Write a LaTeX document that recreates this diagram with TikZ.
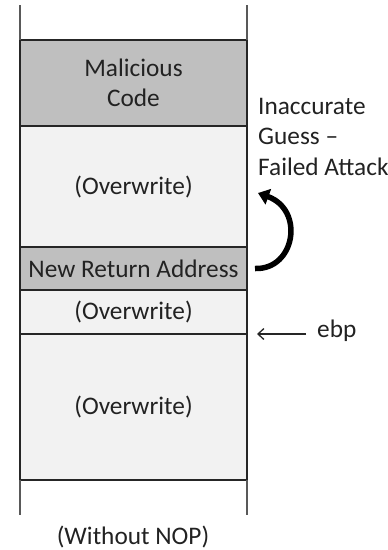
\documentclass[tikz,border=0pt]{standalone}
\usepackage{fontspec}
\setmainfont{Carlito}
\usetikzlibrary{arrows.meta}
\definecolor{codegray}{HTML}{BFBFBF}
\definecolor{lightfill}{HTML}{F2F2F2}
\definecolor{inkgray}{HTML}{222222}
\definecolor{wallgray}{HTML}{595959}
\begin{document}
\begin{tikzpicture}[x=1pt,y=-1pt,
  font=\fontsize{25.3}{30.5}\selectfont,
  cell/.style={draw=black!85, line width=2pt, minimum width=227pt,
    inner sep=0pt, outer sep=0pt, align=center, text=inkgray},
  label/.style={inner sep=0pt, text=inkgray},
  wall/.style={draw=wallgray, line width=1.5pt}]
\useasboundingbox (0,0) rectangle (388,550);

% stack frame cells, top to bottom
\node[cell, fill=codegray,  minimum height=86pt]  (mal) at (133.5,83)    {Malicious\\Code};
\node[cell, fill=lightfill, minimum height=121pt] (ow1) at (133.5,186.5) {(Overwrite)};
\node[cell, fill=codegray,  minimum height=43pt]  (ret) at (133.5,268.5) {New Return Address};
\node[cell, fill=lightfill, minimum height=44pt]  (ow2) at (133.5,312)   {(Overwrite)};
\node[cell, fill=lightfill, minimum height=146pt] (ow3) at (133.5,407)   {(Overwrite)};

% open stack walls above and below
\draw[wall] (mal.north west) -- ++(0,-35);
\draw[wall] (mal.north east) -- ++(0,-35);
\draw[wall] (ow3.south west) -- ++(0,35);
\draw[wall] (ow3.south east) -- ++(0,35);

% side labels
\node[label, anchor=west, align=left] (guess) at (258,136.5)
  {Inaccurate\\Guess --\\Failed Attack};
\node[label, anchor=west] (ebp) at (317,331) {ebp};
\node[label] (caption) at (133,537) {(Without NOP)};

% frame pointer marker
\draw[line width=1.3pt, black!85, -{Straight Barb[length=6pt,width=11pt]}]
  ([xshift=-11pt]ebp.west |- ow2.south) -- ([xshift=10pt]ow2.south east);

% jump from the return address into the overwritten area
\draw[line width=5.5pt, black, -{Triangle[length=11pt,width=16pt]}]
  ([xshift=8pt]ret.east) .. controls (295,270) and (305,210) .. (258,193);
\end{tikzpicture}
\end{document}
